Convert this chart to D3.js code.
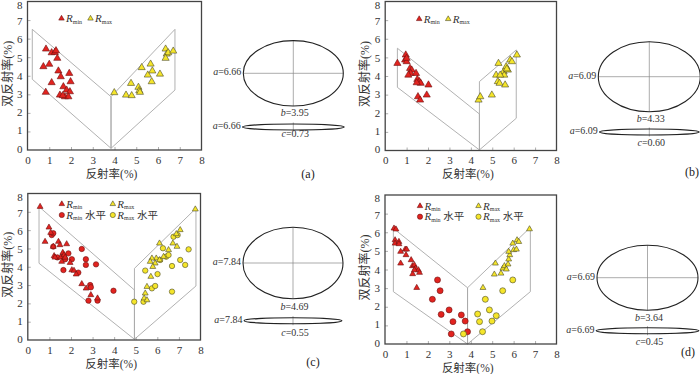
<!DOCTYPE html>
<html>
<head>
<meta charset="utf-8">
<script src="https://cdn.jsdelivr.net/npm/d3@7"></script>
<style>
  body { margin: 0; background: #fff; }
  svg { display: block; font-family: "Liberation Serif", "Times New Roman", "Noto Sans CJK SC", serif; }
</style>
</head>
<body>
<div id="chart"></div>
<script>

// ---- data ----
const ticks = [0, 1, 2, 3, 4, 5, 6, 7, 8];

// (a)
const aRmin = [[0.85,5.44],[1.11,5.24],[1.26,5.26],[1.31,5.35],[1.37,4.94],[0.73,4.49],[1.0,4.62],[1.42,4.26],
  [1.53,3.95],[1.92,4.13],[1.98,3.68],[1.11,3.63],[0.84,3.11],[1.65,3.41],[1.49,2.96],[1.8,3.23],[1.72,2.87],
  [1.95,3.14],[1.88,2.87],[1.62,2.93]];
const aRmax = [[3.99,3.09],[4.53,2.96],[4.79,2.93],[4.76,3.59],[5.1,3.38],[5.14,3.2],[5.17,3.11],[5.25,4.44],
  [5.53,4.04],[5.66,4.63],[5.74,4.26],[5.71,3.68],[6.09,4.09],[6.35,5.44],[6.4,5.17],[6.47,5.24],[6.35,4.94],[6.7,5.33]];
const aPolyL = [[0.22,6.5],[3.84,2.87],[3.84,0.09],[0.22,3.81]];
const aPolyR = [[3.84,2.87],[6.78,6.5],[6.78,3.23],[3.84,0.09]];

// (b)
const bRmin = [[0.57,4.68],[0.96,5.13],[0.93,4.86],[1.0,4.77],[1.16,4.41],[1.24,4.32],[1.19,4.14],[1.08,4.05],
  [1.44,4.14],[1.5,3.82],[1.6,3.7],[1.66,3.61],[2.02,3.52],[1.53,2.89],[1.63,2.71],[1.94,2.98],[1.47,3.64],[1.0,4.95]];
const bRmax = [[4.36,2.71],[4.44,2.89],[4.98,2.98],[5.29,4.68],[5.18,4.05],[5.26,3.7],[5.34,3.61],[5.53,4.23],
  [5.6,3.52],[5.56,4.05],[5.73,4.32],[5.65,4.5],[5.68,4.38],[5.84,4.86],[5.92,4.77],[6.15,5.13],[5.37,4.05]];
const bPolyL = [[0.57,5.49],[4.4,1.96],[4.4,0.03],[0.57,3.39]];
const bPolyR = [[4.4,3.7],[6.12,5.4],[6.12,1.73],[4.4,0.03]];

// (c)
const cRmin = [[0.57,7.28],[0.8,5.37],[0.98,6.15],[1.06,5.86],[1.18,5.1],[1.22,4.59],[1.26,4.51],[1.42,5.37],
  [1.49,5.19],[1.53,4.51],[1.62,4.77],[1.68,4.64],[1.57,4.28],[1.8,5.24],[1.96,4.22],[2.04,3.82],[2.14,3.79],
  [2.24,3.59],[2.5,3.06],[2.7,2.82],[2.92,2.46],[3.23,2.28],[1.73,4.51]];
const cRminH = [[1.11,5.73],[1.18,5.83],[1.18,5.1],[1.37,4.51],[1.65,4.55],[1.73,4.41],[1.88,4.73],[2.04,4.41],
  [1.65,3.82],[2.34,3.68],[2.5,4.97],[2.69,4.41],[2.69,4.1],[3.16,4.13],[2.89,3.0],[2.92,2.88],[2.81,2.15],
  [3.23,2.15],[3.97,2.69]];
const cRmax = [[7.76,7.14],[6.1,5.28],[7.06,6.01],[6.88,5.79],[6.72,5.28],[6.91,5.1],[6.52,4.92],[6.29,4.55],
  [5.95,4.46],[5.75,4.46],[5.67,4.28],[5.9,4.19],[5.79,4.0],[5.7,3.46],[5.52,2.91],[5.44,2.55],[5.39,2.28],
  [5.52,2.18],[6.1,4.37]];
const cRmaxH = [[4.93,2.09],[5.36,2.09],[5.44,3.79],[5.75,2.82],[5.9,2.95],[6.01,3.6],[6.13,4.37],[6.26,5.01],
  [6.41,4.55],[6.52,4.64],[6.75,5.64],[6.94,5.73],[7.06,4.37],[6.68,4.04],[7.29,4.1],[7.45,4.95],[6.68,2.64]];
const cPolyL = [[0.52,7.28],[4.94,2.73],[4.94,0.04],[0.52,4.19]];
const cPolyR = [[4.94,3.91],[7.79,7.19],[7.79,2.95],[4.94,0.04]];

// (d)
const dRmin = [[0.42,6.21],[0.51,6.16],[0.47,5.58],[0.47,5.4],[0.65,5.49],[0.65,5.37],[0.73,4.96],[0.94,5.08],
  [1.01,5.08],[0.98,4.78],[0.73,4.33],[1.22,4.51],[1.28,4.19],[1.37,4.24],[1.43,4.06],[1.29,3.76],[1.56,3.97],
  [1.61,3.83],[1.48,3.02],[1.37,3.97]];
const dRminH = [[2.45,3.44],[2.57,2.86],[2.21,2.4],[2.62,1.59],[2.99,1.83],[3.17,1.2],[3.09,0.54],[3.56,1.56],
  [3.74,1.23],[3.85,0.66]];
const dRmax = [[6.74,6.17],[4.57,3.02],[5.15,4.33],[5.1,3.74],[5.41,3.79],[5.5,4.06],[5.57,4.19],[5.66,4.01],
  [5.74,4.28],[5.77,4.55],[5.82,4.78],[5.77,4.96],[6.0,5.05],[6.13,5.08],[5.96,5.4],[6.16,5.58],[6.24,5.49]];
const dRmaxH = [[3.66,0.54],[4.32,1.61],[4.41,1.2],[4.68,2.4],[4.87,1.83],[5.19,1.52],[4.99,1.23],[4.55,0.66],
  [5.49,2.86],[5.96,3.44]];
const dPolyL = [[0.39,6.21],[3.85,3.02],[3.85,0],[0.39,2.81]];
const dPolyR = [[3.85,3.02],[6.78,6.26],[6.78,2.81],[3.85,0]];

// ellipse axes (text values)
const axisA = ["6.66", "6.09", "7.84", "6.69"];
const axisB = ["3.95", "4.33", "4.69", "3.64"];
const axisC = ["0.73", "0.60", "0.55", "0.45"];
const panelTags = ["(a)", "(b)", "(c)", "(d)"];

// ---- layout ----
const RED = "#e2231f", RED_EDGE = "#6b1010";
const YEL = "#f5e52a", YEL_EDGE = "#4a4a2a";
const CJK = "'Liberation Serif','Noto Sans CJK SC',serif";

const panels = [
  { box: [27.5, 201.5, 1.5, 150], tri: 22, dot: 2.8,
    sets: [[aRmin, "tri", RED], [aRmax, "tri", YEL]], polys: [aPolyL, aPolyR],
    legend: [{ dx: 34, dy: 17, shape: "tri", c: RED, sub: "min", hz: false },
             { dx: 63, dy: 17, shape: "tri", c: YEL, sub: "max", hz: false }],
    ell: { cx: 293.3, cy: 73.3, rx: 50, ry: 32.7, scy: 127, srx: 51, bY: 114, cY: 135 },
    tag: [308, 175] },
  { box: [385.2, 556.5, 1.5, 150.5], tri: 22, dot: 2.8,
    sets: [[bRmin, "tri", RED], [bRmax, "tri", YEL]], polys: [bPolyL, bPolyR],
    legend: [{ dx: 34, dy: 17.5, shape: "tri", c: RED, sub: "min", hz: false },
             { dx: 63, dy: 17.5, shape: "tri", c: YEL, sub: "max", hz: false }],
    ell: { cx: 649.3, cy: 76.7, rx: 51, ry: 35, scy: 132, srx: 50, bY: 120, cY: 144.3 },
    tag: [692, 173.5] },
  { box: [27.8, 200.5, 193.5, 340], tri: 15, dot: 2.7,
    sets: [[cRminH, "dot", RED], [cRmin, "tri", RED], [cRmaxH, "dot", YEL], [cRmax, "tri", YEL]],
    polys: [cPolyL, cPolyR],
    legend: [{ dx: 34, dy: 10.5, shape: "tri", c: RED, sub: "min", hz: false },
             { dx: 34, dy: 21.5, shape: "dot", c: RED, sub: "min", hz: true },
             { dx: 85, dy: 10.5, shape: "tri", c: YEL, sub: "max", hz: false },
             { dx: 85, dy: 21.5, shape: "dot", c: YEL, sub: "max", hz: true }],
    ell: { cx: 293, cy: 263, rx: 50, ry: 35.7, scy: 320.7, srx: 49, bY: 308.3, cY: 334 },
    tag: [313, 363] },
  { box: [385, 556.5, 195, 344], tri: 15, dot: 3,
    sets: [[dRminH, "dot", RED], [dRmin, "tri", RED], [dRmaxH, "dot", YEL], [dRmax, "tri", YEL]],
    polys: [dPolyL, dPolyR],
    legend: [{ dx: 35, dy: 11, shape: "tri", c: RED, sub: "min", hz: false },
             { dx: 35, dy: 21.7, shape: "dot", c: RED, sub: "min", hz: true },
             { dx: 93.5, dy: 11, shape: "tri", c: YEL, sub: "max", hz: false },
             { dx: 93.5, dy: 21.7, shape: "dot", c: YEL, sub: "max", hz: true }],
    ell: { cx: 647.5, cy: 277.7, rx: 50.5, ry: 32.5, scy: 330.7, srx: 51.5, bY: 319.3, cY: 343.3 },
    tag: [688, 353] }
];

const svg = d3.select("#chart").append("svg")
  .attr("width", 700)
  .attr("height", 374);

function edgeOf(c) { return c === RED ? RED_EDGE : YEL_EDGE; }

panels.forEach((p, i) => {
  const [x0, x1, y0, y1] = p.box;
  const x = d3.scaleLinear().domain([0, 8]).range([x0, x1]);
  const y = d3.scaleLinear().domain([0, 8]).range([y1, y0]);
  const g = svg.append("g");

  // polygons (gray envelope)
  const line = d3.line().x(d => x(d[0])).y(d => y(d[1]));
  p.polys.forEach(poly => {
    g.append("path")
      .attr("d", line(poly) + "Z")
      .attr("fill", "none")
      .attr("stroke", "#a8a8a8")
      .attr("stroke-width", 0.9);
  });

  // points
  const tri = d3.symbol().type(d3.symbolTriangle).size(p.tri);
  p.sets.forEach(([pts, shape, col]) => {
    if (shape === "tri") {
      g.selectAll(null).data(pts).enter().append("path")
        .attr("d", tri)
        .attr("transform", d => `translate(${x(d[0])},${y(d[1])})`)
        .attr("fill", col).attr("stroke", edgeOf(col)).attr("stroke-width", 0.6);
    } else {
      g.selectAll(null).data(pts).enter().append("circle")
        .attr("cx", d => x(d[0])).attr("cy", d => y(d[1])).attr("r", p.dot)
        .attr("fill", col).attr("stroke", edgeOf(col)).attr("stroke-width", 0.6);
    }
  });

  // axes: inward ticks + labels
  const xAxis = d3.axisBottom(x).tickValues(ticks).tickSize(-3).tickPadding(6);
  const yAxis = d3.axisLeft(y).tickValues(ticks).tickSize(-3).tickPadding(5);
  const gx = g.append("g").attr("transform", `translate(0,${y1})`).call(xAxis);
  const gy = g.append("g").attr("transform", `translate(${x0},0)`).call(yAxis);
  [gx, gy].forEach(a => {
    a.select(".domain").remove();
    a.selectAll(".tick line").attr("stroke", "#999").attr("stroke-width", 0.8);
    a.selectAll(".tick text").attr("font-size", 11).attr("fill", "#333")
      .attr("font-family", "'Liberation Serif',serif");
  });
  gx.selectAll(".tick").filter(d => d === 0 || d === 8).select("line").remove();
  gy.selectAll(".tick").filter(d => d === 0 || d === 8).select("line").remove();
  // y labels sit slightly inside the frame ends, as in the original
  gy.selectAll(".tick text").attr("y", d => (d - 4) * 0.35 + (d === 8 ? 1.8 : 0));

  // frame
  g.append("rect")
    .attr("x", x0).attr("y", y0).attr("width", x1 - x0).attr("height", y1 - y0)
    .attr("fill", "none").attr("stroke", "#444").attr("stroke-width", 1.3);

  // axis titles
  g.append("text")
    .attr("x", (x0 + x1) / 2 - 3).attr("y", y1 + 25)
    .attr("text-anchor", "middle").attr("dominant-baseline", "middle")
    .attr("font-size", 11.5).attr("fill", "#333").style("font-family", CJK)
    .text("反射率(%)");
  g.append("text")
    .attr("transform", `translate(${x0 - 18.5},${(y0 + y1) / 2 - 2}) rotate(-90)`)
    .attr("text-anchor", "middle").attr("dominant-baseline", "middle")
    .attr("font-size", 12).attr("fill", "#333").style("font-family", CJK)
    .text("双反射率(%)");

  // legend
  const legTri = d3.symbol().type(d3.symbolTriangle).size(13);
  p.legend.forEach(l => {
    const lx = x0 + l.dx, ly = y0 + l.dy;
    if (l.shape === "tri") {
      g.append("path").attr("d", legTri).attr("transform", `translate(${lx},${ly})`)
        .attr("fill", l.c).attr("stroke", edgeOf(l.c)).attr("stroke-width", 0.6);
    } else {
      g.append("circle").attr("cx", lx).attr("cy", ly).attr("r", 2.6)
        .attr("fill", l.c).attr("stroke", edgeOf(l.c)).attr("stroke-width", 0.6);
    }
    const t = g.append("text").attr("x", lx + 4.5).attr("y", ly + 3.5)
      .attr("font-size", 11).attr("fill", "#333").style("font-family", CJK);
    t.append("tspan").attr("font-style", "italic").text("R");
    t.append("tspan").attr("font-size", 6).attr("dy", 1.5).text(l.sub);
    if (l.hz) t.append("tspan").attr("dy", -1.5).attr("font-size", 10.5).text(" 水平");
  });

  // ellipses
  const e = p.ell;
  const eg = svg.append("g");
  eg.append("line").attr("x1", e.cx - e.rx).attr("x2", e.cx + e.rx).attr("y1", e.cy).attr("y2", e.cy)
    .attr("stroke", "#888").attr("stroke-width", 0.7);
  eg.append("line").attr("x1", e.cx).attr("x2", e.cx).attr("y1", e.cy - e.ry).attr("y2", e.cy + e.ry)
    .attr("stroke", "#888").attr("stroke-width", 0.7);
  eg.append("ellipse").attr("cx", e.cx).attr("cy", e.cy).attr("rx", e.rx).attr("ry", e.ry)
    .attr("fill", "none").attr("stroke", "#222").attr("stroke-width", 1.1);
  eg.append("line").attr("x1", e.cx).attr("x2", e.cx).attr("y1", e.scy - 4.5).attr("y2", e.scy + 4.5)
    .attr("stroke", "#888").attr("stroke-width", 0.7);
  eg.append("ellipse").attr("cx", e.cx).attr("cy", e.scy).attr("rx", e.srx).attr("ry", 3)
    .attr("fill", "none").attr("stroke", "#222").attr("stroke-width", 1.1);

  const lab = (tx, ty, anchor, sym, val) => {
    const t = eg.append("text").attr("x", tx).attr("y", ty)
      .attr("text-anchor", anchor).attr("dominant-baseline", "middle")
      .attr("font-size", 10).attr("fill", "#333");
    t.append("tspan").attr("font-style", "italic").text(sym);
    t.append("tspan").text("=" + val);
  };
  lab(e.cx - e.rx - 2, e.cy, "end", "a", axisA[i]);
  lab(e.cx + 1.5, e.bY, "middle", "b", axisB[i]);
  lab(e.cx - e.srx - 1.5, e.scy, "end", "a", axisA[i]);
  lab(e.cx + 2, e.cY, "middle", "c", axisC[i]);

  eg.append("text").attr("x", p.tag[0]).attr("y", p.tag[1])
    .attr("text-anchor", "middle").attr("dominant-baseline", "middle")
    .attr("font-size", 12).attr("fill", "#222").text(panelTags[i]);
});

</script>
</body>
</html>
